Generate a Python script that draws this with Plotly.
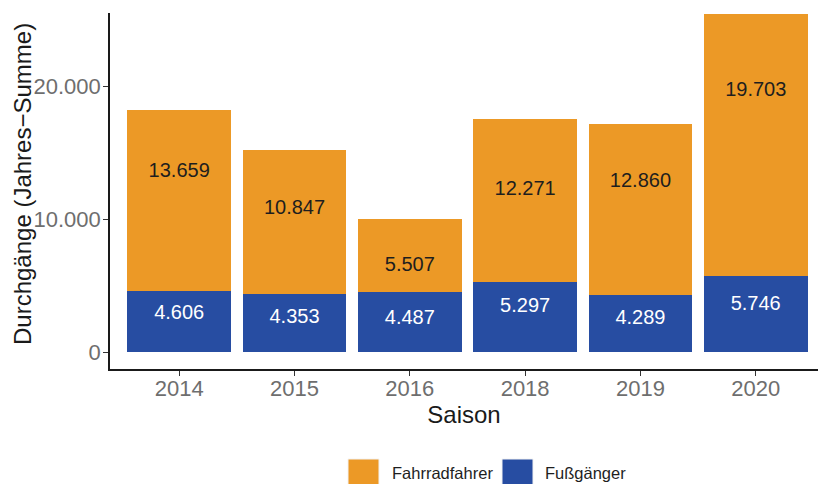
import plotly.graph_objects as go

# ---- data ----
saison = ["2014", "2015", "2016", "2018", "2019", "2020"]
fussgaenger = [4606, 4353, 4487, 5297, 4289, 5746]
fahrradfahrer = [13659, 10847, 5507, 12271, 12860, 19703]
# label anchor heights (data units) as they appear in the reference
label_y_fahrrad = [13550, 10790, 6520, 12200, 12850, 19680]
label_y_fuss = [2880, 2560, 2510, 3410, 2510, 3560]
y_ticks = [0, 10000, 20000]

ORANGE = "#EC9926"
BLUE = "#274DA2"
FONT = "Liberation Sans, Arial, sans-serif"


def de_fmt(v):
    return f"{v:,}".replace(",", ".")


fig = go.Figure()
fig.add_trace(go.Bar(x=saison, y=fussgaenger, name="Fußgänger",
                     marker=dict(color=BLUE, line=dict(width=0)),
                     showlegend=False, hoverinfo="skip"))
fig.add_trace(go.Bar(x=saison, y=fahrradfahrer, name="Fahrradfahrer",
                     marker=dict(color=ORANGE, line=dict(width=0)),
                     showlegend=False, hoverinfo="skip"))

fig.add_trace(go.Scatter(x=saison, y=label_y_fahrrad, mode="text",
                         text=[de_fmt(v) for v in fahrradfahrer],
                         textposition="middle center",
                         textfont=dict(family=FONT, size=20, color="#1e1e1e"),
                         showlegend=False, hoverinfo="skip"))
fig.add_trace(go.Scatter(x=saison, y=label_y_fuss, mode="text",
                         text=[de_fmt(v) for v in fussgaenger],
                         textposition="middle center",
                         textfont=dict(family=FONT, size=20, color="white"),
                         showlegend=False, hoverinfo="skip"))

W, H = 818, 484
L, T, B = 110, 13, 115
PH = H - T - B

# manual legend (large square keys like the reference)
legend_items = [("Fahrradfahrer", ORANGE, 348, 390), ("Fußgänger", BLUE, 502, 543)]
for label, col, kx, tx in legend_items:
    fig.add_shape(type="rect", xref="paper", yref="paper",
                  x0=(kx - L) / (W - L), x1=(kx + 31 - L) / (W - L),
                  y0=(H - B - 490) / PH, y1=(H - B - 459) / PH,
                  fillcolor=col, line=dict(width=1, color="#f2f2f2"), layer="above")
    fig.add_annotation(text=label, xref="paper", yref="paper",
                       x=(tx - L) / (W - L), y=(H - B - 473) / PH,
                       xanchor="left", yanchor="middle", showarrow=False,
                       font=dict(family=FONT, size=16.5, color="#1e1e1e"))

# y axis title
fig.add_annotation(text="Durchgänge (Jahres−Summe)", xref="paper", yref="paper",
                   x=0, xshift=22 - L, y=(H - B - 184) / PH,
                   xanchor="center", yanchor="middle", textangle=-90,
                   showarrow=False,
                   font=dict(family=FONT, size=24, color="#1a1a1a"))

fig.update_layout(
    barmode="stack",
    bargap=0.1,
    width=W, height=H,
    margin=dict(l=L, r=0, t=T, b=B, autoexpand=False),
    paper_bgcolor="white",
    plot_bgcolor="white",
    separators=",.",
    font=dict(family=FONT),
    xaxis=dict(
        type="category",
        range=[-0.6, 5.54],
        automargin=False,
        showgrid=False, zeroline=False,
        showline=True, linecolor="#1a1a1a", linewidth=1.6,
        ticks="outside", ticklen=5, tickwidth=1.2, tickcolor="#333333",
        ticklabelstandoff=-6,
        tickfont=dict(family=FONT, size=22, color="#6e6e6e"),
        title=dict(text="Saison", font=dict(family=FONT, size=24, color="#1a1a1a"),
                   standoff=0),
    ),
    yaxis=dict(
        range=[-1280, 25550],
        tickvals=y_ticks,
        tickformat=",d",
        automargin=False,
        showgrid=False, zeroline=False,
        showline=True, linecolor="#1a1a1a", linewidth=1.6,
        ticks="outside", ticklen=5, tickwidth=1.2, tickcolor="#333333",
        ticklabelstandoff=-2,
        tickfont=dict(family=FONT, size=22, color="#6e6e6e"),
    ),
)

fig.write_html("out.html",
               config={"displayModeBar": False},
               post_script="document.body.style.margin='0';document.body.style.overflow='hidden';")
